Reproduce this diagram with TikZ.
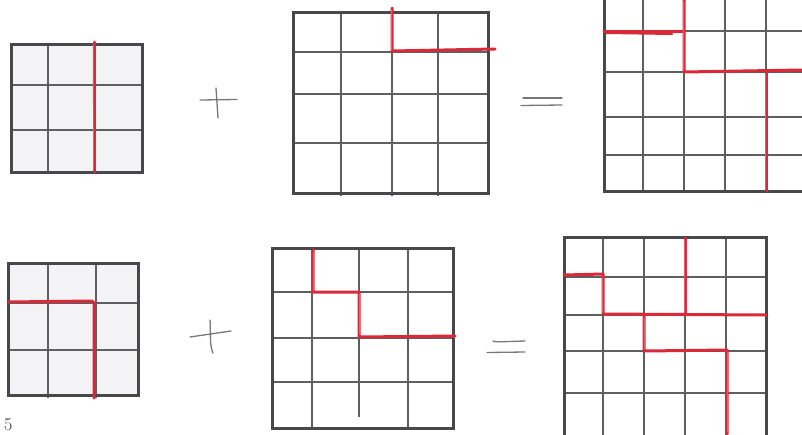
\documentclass[tikz,border=0pt]{standalone}
\usetikzlibrary{calc}
\definecolor{frame}{RGB}{72,72,74}
\definecolor{inner}{RGB}{95,95,98}
\definecolor{cellgray}{RGB}{243,243,246}
\definecolor{pen}{RGB}{218,42,58}
\definecolor{penlight}{RGB}{234,92,104}
\definecolor{pencil}{RGB}{120,120,122}
\tikzset{
  outerbox/.style={draw=frame, line width=3pt},
  gridline/.style={draw=inner, line width=1.1pt},
  redpath/.style={draw=pen, line width=3pt, line cap=round, line join=round},
  redhi/.style={draw=penlight, line width=0.7pt, line cap=round, line join=round},
  pencilstroke/.style={draw=pencil, line width=1.3pt, line cap=round}
}
\begin{document}
\begin{tikzpicture}[x=1pt,y=-1pt]
\useasboundingbox (0,0) rectangle (802,434);
\fill[white] (0,0) rectangle (802,434);
\begin{scope}
\clip (0,0) rectangle (802,434);

% ---------- Grid 1 (top left, 3x3) ----------
\fill[cellgray] (11,44) rectangle (142,172);
\foreach \x in {48,94} \draw[gridline] (\x,44) -- (\x,172);
\foreach \y in {85,130} \draw[gridline] (11,\y) -- (142,\y);
\draw[outerbox] (11,44) rectangle (142,172);
\draw[redpath] (94,42) -- (94,172);
\draw[redhi] (93.2,44) -- (93.5,170);

% ---------- Grid 2 (top middle, 4x4) ----------
\foreach \x in {341,392,438} \draw[gridline] (\x,12) -- (\x,196);
\foreach \y in {52,94,143} \draw[gridline] (293,\y) -- (488,\y);
\draw[outerbox] (293,12) rectangle (488,193);
\draw[redpath] (392,8) -- (392,51) -- (495,49);
\draw[redhi] (391.2,10) -- (391.2,50);

% ---------- Grid 3 (top right, 5x5, cut) ----------
\foreach \x in {643,684,725,766} \draw[gridline] (\x,-9) -- (\x,191);
\foreach \y in {31,72,117,155} \draw[gridline] (604,\y) -- (806,\y);
\draw[outerbox] (604,-9) rectangle (806,191);
\draw[redpath] (604,31) -- (684,31);
\draw[redpath, line width=2pt] (606,33) -- (672,34);
\draw[redpath] (684,0) -- (684,72) -- (802,70);
\draw[redhi] (683.2,2) -- (683.2,70);
\draw[redpath] (766,71) -- (766,191);
\draw[redhi] (765.2,74) -- (765.2,189);

% ---------- Grid 4 (bottom left, 3x3) ----------
\fill[cellgray] (8,263) rectangle (138,395);
\foreach \x in {48,96} \draw[gridline] (\x,263) -- (\x,398);
\foreach \y in {303,350} \draw[gridline] (8,\y) -- (138,\y);
\draw[outerbox] (8,263) rectangle (138,395);
\draw[redpath] (8,302) -- (92,301) -- (94,303) -- (94,398);

% ---------- Grid 5 (bottom middle, 4x4) ----------
\foreach \x in {312,408} \draw[gridline] (\x,248) -- (\x,428);
\draw[gridline] (359,248) -- (359,417);
\foreach \y in {292,338,382} \draw[gridline] (272,\y) -- (453,\y);
\draw[outerbox] (272,248) rectangle (453,428);
\draw[redpath] (313,250) -- (313,292) -- (359,292) -- (359,337) -- (455,336);
\draw[redhi] (313.8,252) -- (313.8,290);
\draw[redhi] (359.8,294) -- (359.8,334);

% ---------- Grid 6 (bottom right, 5x5) ----------
\foreach \x in {603,644,685,726} \draw[gridline] (\x,237) -- (\x,436);
\foreach \y in {277,315,351,393} \draw[gridline] (564,\y) -- (766,\y);
\draw[outerbox] (564,237) rectangle (766,436);
\draw[redpath] (564,275) -- (603,274) -- (603,314) -- (766,315);
\draw[redhi] (602.2,277) -- (602.2,312);
\draw[redpath] (685,238) -- (685,314);
\draw[redhi] (684.2,240) -- (684.2,312);
\draw[redpath] (644,315) -- (644,351) -- (727,350) -- (727,434);
\draw[redhi] (644.8,318) -- (644.8,349);
\draw[redhi] (727.8,352) -- (727.8,432);

% ---------- Plus and equals signs ----------
\draw[pencilstroke] (200,100) -- (237,99.5);
\draw[pencilstroke] (216,88) -- (218,118);
\draw[pencilstroke] (523,98) -- (562,98);
\draw[pencilstroke] (521,105.5) -- (562,105);

\draw[pencilstroke] (190,337) -- (231,331);
\draw[pencilstroke] (210,320) .. controls (211,330) and (209,344) .. (213,353);
\draw[pencilstroke] (493,341) .. controls (495,342) .. (525,341);
\draw[pencilstroke] (487,352.5) -- (525,352);
\end{scope}

\node[anchor=base west, inner sep=0pt, text=black!80, font=\fontsize{18}{18}\selectfont] (pagenum) at (4,430) {5};
\end{tikzpicture}
\end{document}
